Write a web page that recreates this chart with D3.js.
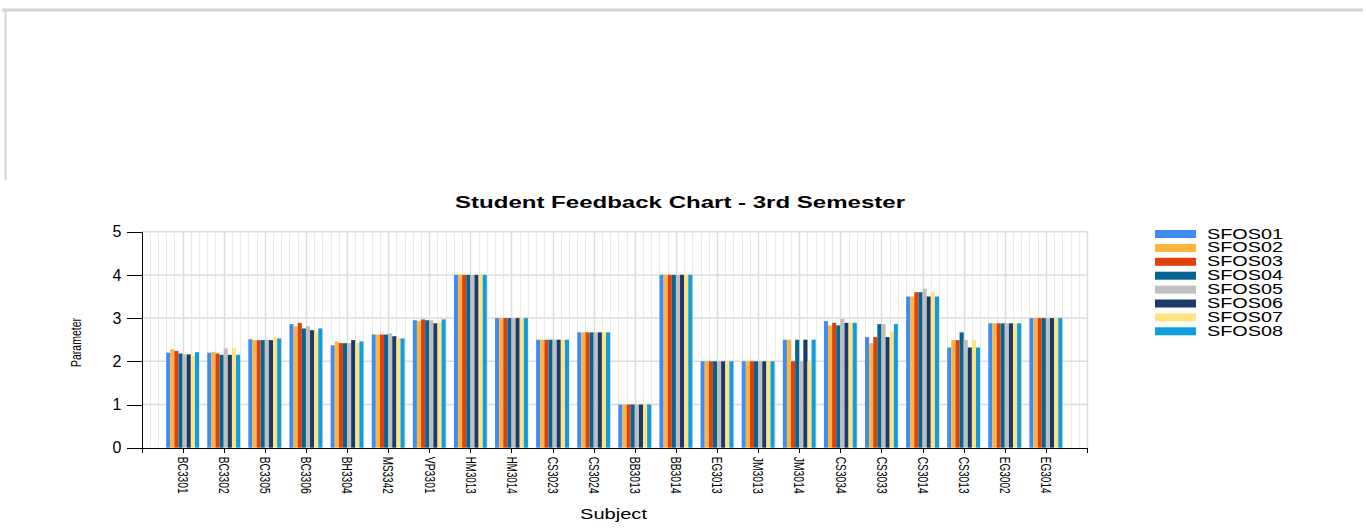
<!DOCTYPE html>
<html>
	<head>
		<meta charset="utf-8">
		<title>Student Feedback Chart - 3rd Semester</title>
		<style>
			body { margin: 0; background: #fff; }
			svg { display: block; font-family: "Liberation Sans", Arial, sans-serif; }
			.axis path, .axis line { stroke: #000; shape-rendering: crispEdges; }
			.axis text { fill: #000; }
		</style>
		<script src="https://cdn.jsdelivr.net/npm/d3@7/dist/d3.min.js"></script>
	</head>
	<body>
		<svg id="myGraph" width="1366" height="531"></svg>
		<script>
		// subjects on the x axis
		var subjects = ["BC3301", "BC3302", "BC3305", "BC3306", "BH3304", "MS3342", "VP3301", "HM3013", "HM3014", "CS3023", "CS3024",
			"BB3013", "BB3014", "EG3013", "JM3013", "JM3014", "CS3034", "CS3033", "CS3014", "CS3013", "EG3002", "EG3014"];
		var seriesNames = ["SFOS01", "SFOS02", "SFOS03", "SFOS04", "SFOS05", "SFOS06", "SFOS07", "SFOS08"];
		var seriesColors = ["#418cf0", "#fcb441", "#e0400a", "#056492", "#bfbfbf", "#1a3b69", "#ffe382", "#129cdd"];
		// one array per series, same order as subjects
		var sfos01 = [2.20, 2.20, 2.51, 2.86, 2.37, 2.62, 2.95, 4, 3, 2.5, 2.67, 1, 4, 2, 2, 2.5, 2.93, 2.56, 3.5, 2.32, 2.88, 3];
		var sfos02 = [2.28, 2.22, 2.49, 2.81, 2.46, 2.62, 2.93, 4, 3, 2.5, 2.67, 1, 4, 2, 2, 2.5, 2.83, 2.42, 3.5, 2.49, 2.88, 3];
		var sfos03 = [2.24, 2.18, 2.49, 2.89, 2.42, 2.62, 2.97, 4, 3, 2.5, 2.67, 1, 4, 2, 2, 2.0, 2.89, 2.56, 3.6, 2.49, 2.88, 3];
		var sfos04 = [2.18, 2.15, 2.49, 2.76, 2.42, 2.62, 2.95, 4, 3, 2.5, 2.67, 1, 4, 2, 2, 2.5, 2.83, 2.86, 3.6, 2.67, 2.88, 3];
		var sfos05 = [2.16, 2.30, 2.50, 2.81, 2.42, 2.65, 2.95, 4, 3, 2.5, 2.67, 1, 4, 2, 2, 2.0, 2.98, 2.86, 3.68, 2.49, 2.88, 3];
		var sfos06 = [2.16, 2.15, 2.49, 2.72, 2.49, 2.58, 2.88, 4, 3, 2.5, 2.67, 1, 4, 2, 2, 2.5, 2.89, 2.56, 3.5, 2.32, 2.88, 3];
		var sfos07 = [2.13, 2.30, 2.56, 2.70, 2.42, 2.53, 2.90, 4, 3, 2.5, 2.67, 1, 4, 2, 2, 2.0, 2.89, 2.69, 3.6, 2.49, 2.88, 3];
		var sfos08 = [2.21, 2.15, 2.53, 2.76, 2.46, 2.53, 2.97, 4, 3, 2.5, 2.67, 1, 4, 2, 2, 2.5, 2.89, 2.86, 3.5, 2.32, 2.88, 3];
		var yTicks = [0, 1, 2, 3, 4, 5];

		var allSeries = [sfos01, sfos02, sfos03, sfos04, sfos05, sfos06, sfos07, sfos08];

		var svg = d3.select("#myGraph");

		// page frame around the chart picture
		svg.append("line").attr("x1", 2).attr("x2", 1363).attr("y1", 10).attr("y2", 10)
			.attr("stroke", "#d6d6d6").attr("stroke-width", 3);
		svg.append("line").attr("x1", 5.5).attr("x2", 5.5).attr("y1", 10).attr("y2", 180)
			.attr("stroke", "#d2d2d2").attr("stroke-width", 2);

		// scales: categories sit at 1..22 on a 0..23 axis
		var x = d3.scaleLinear().domain([0, subjects.length + 1]).range([141.5, 1087]);
		var y = d3.scaleLinear().domain([0, 5]).range([447.7, 231.7]);
		var unit = x(1) - x(0);
		var xSub = d3.scaleBand().domain(seriesNames).range([-0.4 * unit, 0.4 * unit]);

		// minor dotted vertical grid
		var minor = d3.range(0, (subjects.length + 1) * 5 + 1).map(function(d){ return d / 5; })
			.filter(function(d){ return Math.abs(d - Math.round(d)) > 0.01; });
		svg.append("g").selectAll("line").data(minor).enter().append("line")
			.attr("x1", function(d){ return Math.round(x(d)) + 0.5; })
			.attr("x2", function(d){ return Math.round(x(d)) + 0.5; })
			.attr("y1", y(5)).attr("y2", y(0))
			.attr("stroke", "#d4d4d4").attr("stroke-dasharray", "1,1");

		// major grid
		svg.append("g").selectAll("line").data(d3.range(1, subjects.length + 2)).enter().append("line")
			.attr("x1", function(d){ return Math.round(x(d)) + 0.5; })
			.attr("x2", function(d){ return Math.round(x(d)) + 0.5; })
			.attr("y1", y(5)).attr("y2", y(0))
			.attr("stroke", "#dcdcdc").attr("stroke-width", 1.5);
		svg.append("g").selectAll("line").data(yTicks.slice(1)).enter().append("line")
			.attr("x1", x(0)).attr("x2", x(subjects.length + 1))
			.attr("y1", function(d){ return y(d); })
			.attr("y2", function(d){ return y(d); })
			.attr("stroke", "#dcdcdc").attr("stroke-width", 1.5);

		// bars
		var groups = svg.append("g").selectAll("g").data(allSeries).enter().append("g")
			.attr("fill", function(d, i){ return seriesColors[i]; });
		groups.each(function(values, si){
			d3.select(this).selectAll("rect").data(values).enter().append("rect")
				.attr("x", function(d, i){ return x(i + 1) + xSub(seriesNames[si]); })
				.attr("width", xSub.bandwidth())
				.attr("y", function(d){ return y(d); })
				.attr("height", function(d){ return y(0) - y(d); });
		});

		// axes
		var yAxis = svg.append("g").attr("class", "axis")
			.attr("transform", "translate(" + x(0) + ",0)")
			.call(d3.axisLeft(y).tickValues(yTicks).tickSize(15).tickSizeOuter(0).tickPadding(5).tickFormat(d3.format("d")));
		yAxis.selectAll("text").attr("font-size", 16);

		var xAxis = svg.append("g").attr("class", "axis")
			.attr("transform", "translate(0," + y(0) + ")")
			.call(d3.axisBottom(x).tickValues(d3.range(0, subjects.length + 2)).tickSize(5).tickSizeOuter(0)
				.tickFormat(function(d){ return (d >= 1 && d <= subjects.length) ? subjects[d - 1] : ""; }));
		xAxis.selectAll("text")
			.attr("font-size", 15)
			.attr("transform", "rotate(90)")
			.attr("x", 9).attr("y", 0).attr("dy", "0.35em")
			.attr("text-anchor", "start")
			.attr("textLength", 37).attr("lengthAdjust", "spacingAndGlyphs");

		// title and axis titles
		svg.append("text").attr("x", 455).attr("y", 208)
			.attr("font-size", 16).attr("font-weight", "bold")
			.attr("textLength", 450).attr("lengthAdjust", "spacingAndGlyphs")
			.text("Student Feedback Chart - 3rd Semester");
		svg.append("text").attr("x", 580).attr("y", 519)
			.attr("font-size", 14)
			.attr("textLength", 67).attr("lengthAdjust", "spacingAndGlyphs")
			.text("Subject");
		svg.append("text").attr("transform", "translate(81,367) rotate(-90)")
			.attr("font-size", 15)
			.attr("textLength", 49).attr("lengthAdjust", "spacingAndGlyphs")
			.text("Parameter");

		// legend
		var legend = svg.append("g").selectAll("g").data(seriesNames).enter().append("g")
			.attr("transform", function(d, i){ return "translate(1155," + (230 + i * 13.9) + ")"; });
		legend.append("rect").attr("width", 41).attr("height", 8)
			.attr("fill", function(d, i){ return seriesColors[i]; });
		legend.append("text").attr("x", 52).attr("y", 8.5)
			.attr("font-size", 14)
			.attr("textLength", 76).attr("lengthAdjust", "spacingAndGlyphs")
			.text(function(d){ return d; });
		</script>
	</body>
</html>
